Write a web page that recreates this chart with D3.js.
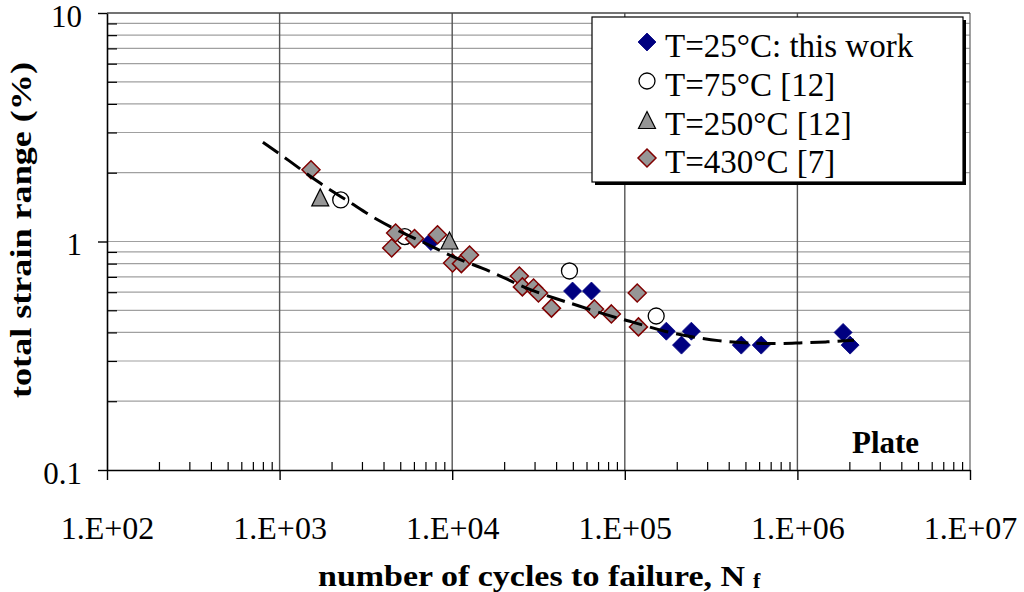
<!DOCTYPE html>
<html>
<head>
<meta charset="utf-8">
<script src="https://cdn.jsdelivr.net/npm/d3@7"></script>
<style>
  html, body { margin: 0; padding: 0; background: #fff; }
  svg { display: block; }
  svg text { font-family: "Liberation Serif", "Times New Roman", serif; fill: #000; }
</style>
</head>
<body>
<svg id="chart" width="1024" height="592"></svg>
<script>
// ---- data: strain-life fatigue results (plate) ----
const xMajorTicks = [1e2, 1e3, 1e4, 1e5, 1e6, 1e7];
const xTickLabels = ["1.E+02", "1.E+03", "1.E+04", "1.E+05", "1.E+06", "1.E+07"];
const yMajorTicks = [0.1, 1, 10];
const yTickLabels = ["0.1", "1", "10"];

// T = 25 °C (this work)
const t25Cycles = [7520, 49800, 64100, 174000, 213000, 243000, 473000, 617000, 1840000, 2020000];
const t25Strain = [1.00, 0.607, 0.607, 0.405, 0.352, 0.405, 0.352, 0.352, 0.40, 0.352];

// T = 75 °C [12]
const t75Cycles = [2260, 5310, 47800, 152000];
const t75Strain = [1.52, 1.05, 0.743, 0.472];

// T = 250 °C [12]
const t250Cycles = [1720, 9640];
const t250Strain = [1.56, 1.01];

// T = 430 °C [7]
const t430Cycles = [1520, 4460, 4700, 6050, 8220, 10050, 11300, 12600, 24500, 25500, 29600, 31600, 37600, 66700, 83600, 118000, 120000];
const t430Strain = [2.06, 0.937, 1.09, 1.03, 1.07, 0.805, 0.80, 0.873, 0.706, 0.633, 0.626, 0.595, 0.511, 0.507, 0.482, 0.595, 0.423];

// fitted strain-life curve
const fitCycles = [800, 1100, 1750, 2550, 3650, 5450, 7400, 10000, 15000, 21500, 25500, 40200, 52500, 84700, 117000, 165000, 246000, 352000, 479000, 753000, 1020000, 1470000, 2130000];
const fitStrain = [2.72, 2.30, 1.77, 1.49, 1.24, 1.07, 0.965, 0.855, 0.766, 0.678, 0.632, 0.56, 0.527, 0.468, 0.44, 0.405, 0.382, 0.367, 0.36, 0.356, 0.36, 0.363, 0.37];

const legendLabels = ["T=25°C: this work", "T=75°C [12]", "T=250°C [12]", "T=430°C [7]"];

// ---- layout ----
const svg = d3.select("#chart");
const plot = { left: 107, right: 970, top: 13, bottom: 470 };
const serif = "Liberation Serif";

const x = d3.scaleLog().domain([1e2, 1e7]).range([plot.left, plot.right]);
const y = d3.scaleLog().domain([0.1, 10]).range([plot.bottom, plot.top]);

// minor tick positions 2..9 within each decade
const minorsIn = (lo, hi) => {
  const out = [];
  for (let d = lo; d < hi; d *= 10) for (let k = 2; k <= 9; k++) out.push(k * d);
  return out;
};
const xMinor = minorsIn(1e2, 1e7);
const yMinor = minorsIn(0.1, 10);

// ---- grid ----
const grid = svg.append("g");
grid.selectAll("line.hg").data(yMinor.concat([1])).join("line")
  .attr("x1", plot.left).attr("x2", plot.right)
  .attr("y1", d => y(d)).attr("y2", d => y(d))
  .attr("stroke", "#a0a0a0").attr("stroke-width", 1.2);
grid.selectAll("line.vg").data(xMajorTicks.slice(1)).join("line")
  .attr("x1", d => x(d)).attr("x2", d => x(d))
  .attr("y1", plot.top).attr("y2", plot.bottom)
  .attr("stroke", d => d === 1e7 ? "#777" : "#555").attr("stroke-width", 1.4);
grid.append("line")
  .attr("x1", plot.left).attr("x2", plot.right)
  .attr("y1", y(10)).attr("y2", y(10))
  .attr("stroke", "#444").attr("stroke-width", 1.5);

// ---- axes ----
const xAxis = svg.append("g").attr("transform", `translate(0,${plot.bottom})`)
  .call(d3.axisBottom(x).tickValues(xMajorTicks).tickSize(10).tickSizeOuter(0)
    .tickFormat((d, i) => xTickLabels[i]));
xAxis.select(".domain").attr("stroke", "#000").attr("stroke-width", 1.6);
xAxis.selectAll(".tick line").attr("stroke", "#000").attr("stroke-width", 1.4);
xAxis.selectAll(".tick text").attr("y", 69).attr("dy", null)
  .attr("fill", "#000").style("font-size", "32px").style("font-family", serif);

svg.append("g").attr("transform", `translate(0,${plot.bottom})`)
  .call(d3.axisTop(x).tickValues(xMinor).tickSize(8).tickSizeOuter(0).tickFormat(""))
  .call(g => g.select(".domain").remove())
  .selectAll(".tick line").attr("stroke", "#000").attr("stroke-width", 1.2);

const yAxis = svg.append("g").attr("transform", `translate(${plot.left},0)`)
  .call(d3.axisLeft(y).tickValues(yMajorTicks).tickSize(9).tickSizeOuter(0)
    .tickFormat((d, i) => yTickLabels[i]));
yAxis.select(".domain").attr("stroke", "#000").attr("stroke-width", 1.6);
yAxis.selectAll(".tick line").attr("stroke", "#000").attr("stroke-width", 1.4);
yAxis.selectAll(".tick text").attr("x", -25).attr("y", 13).attr("dy", null)
  .attr("fill", "#000").style("font-size", "31px").style("font-family", serif);

svg.append("g").attr("transform", `translate(${plot.left},0)`)
  .call(d3.axisRight(y).tickValues(yMinor).tickSize(10).tickSizeOuter(0).tickFormat(""))
  .call(g => g.select(".domain").remove())
  .selectAll(".tick line").attr("stroke", "#000").attr("stroke-width", 1.2);

// ---- axis titles ----
svg.append("text")
  .attr("x", 318).attr("y", 586)
  .attr("textLength", 427).attr("lengthAdjust", "spacingAndGlyphs")
  .style("font-size", "30px").style("font-weight", "bold")
  .text("number of cycles to failure, N");
svg.append("text")
  .attr("x", 753).attr("y", 588)
  .style("font-size", "22px").style("font-weight", "bold")
  .text("f");

svg.append("text")
  .attr("transform", "translate(31,230) rotate(-90)")
  .attr("text-anchor", "middle")
  .attr("textLength", 336).attr("lengthAdjust", "spacingAndGlyphs")
  .style("font-size", "30px").style("font-weight", "bold")
  .text("total strain range (%)");

// ---- marker shapes ----
const diamondPath = r => `M0,${-r}L${r},0L0,${r}L${-r},0Z`;
const trianglePath = (w, h) => `M0,${-h / 2}L${w / 2},${h / 2}L${-w / 2},${h / 2}Z`;

const styles = [
  { path: diamondPath(9), fill: "#000080", stroke: "#000080", sw: 0.8 },
  { circle: 8, fill: "#fff", stroke: "#000", sw: 1.3 },
  { path: trianglePath(17, 17), fill: "#969696", stroke: "#000", sw: 1.2 },
  { path: diamondPath(9), fill: "#969696", stroke: "#800000", sw: 1.5 }
];

function drawMarker(g, s, cx, cy) {
  if (s.circle) {
    g.append("circle").attr("cx", cx).attr("cy", cy).attr("r", s.circle)
      .attr("fill", s.fill).attr("stroke", s.stroke).attr("stroke-width", s.sw);
  } else {
    g.append("path").attr("d", s.path).attr("transform", `translate(${cx},${cy})`)
      .attr("fill", s.fill).attr("stroke", s.stroke).attr("stroke-width", s.sw);
  }
}

const series = [
  { cycles: t25Cycles, strain: t25Strain, style: styles[0] },
  { cycles: t75Cycles, strain: t75Strain, style: styles[1] },
  { cycles: t430Cycles, strain: t430Strain, style: styles[3] },
  { cycles: t250Cycles, strain: t250Strain, style: styles[2] }
];

const marks = svg.append("g");
series.forEach(s => {
  const g = marks.append("g");
  s.cycles.forEach((n, i) => drawMarker(g, s.style, x(n), y(s.strain[i])));
});

// ---- fitted curve ----
const fitPts = fitCycles.map((n, i) => [n, fitStrain[i]]);
svg.append("path")
  .datum(fitPts)
  .attr("d", d3.line().x(d => x(d[0])).y(d => y(d[1])).curve(d3.curveBasis))
  .attr("fill", "none").attr("stroke", "#000").attr("stroke-width", 3)
  .attr("stroke-dasharray", "19,8");

// ---- legend ----
const leg = svg.append("g");
const lb = { x: 592, y: 17, w: 371, h: 165 };
leg.append("rect").attr("x", lb.x + 3).attr("y", lb.y + 3).attr("width", lb.w).attr("height", lb.h)
  .attr("fill", "#000");
leg.append("rect").attr("x", lb.x).attr("y", lb.y).attr("width", lb.w).attr("height", lb.h)
  .attr("fill", "#fff").attr("stroke", "#000").attr("stroke-width", 1.2);
const baselines = [57, 96, 135, 173];
legendLabels.forEach((lab, i) => {
  drawMarker(leg, styles[i], 647, baselines[i] - 15);
  leg.append("text").attr("x", 665).attr("y", baselines[i])
    .style("font-size", "33px").text(lab);
});

// ---- panel label ----
svg.append("text").attr("x", 852).attr("y", 453)
  .style("font-size", "31px").style("font-weight", "bold")
  .text("Plate");
</script>
</body>
</html>
